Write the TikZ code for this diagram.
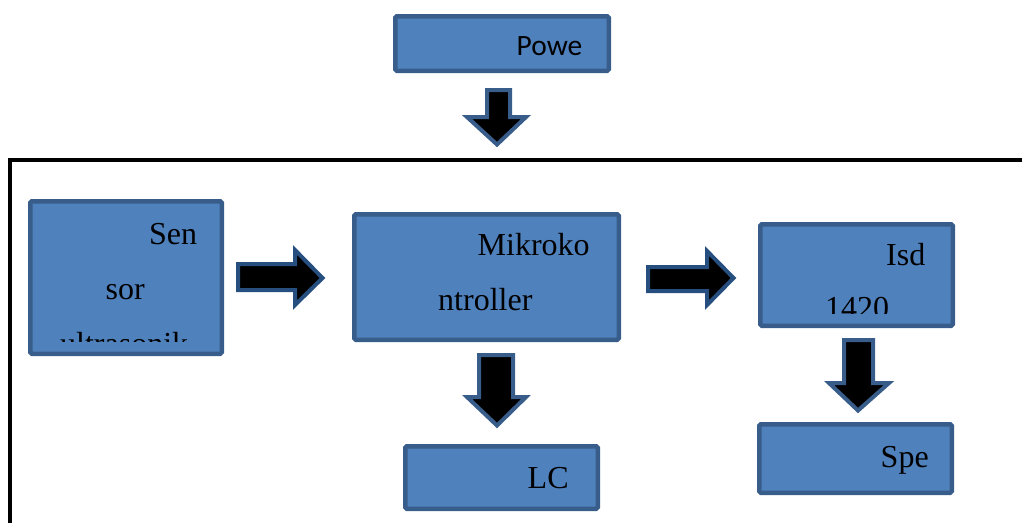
\documentclass[tikz,border=0pt]{standalone}
\usepackage{fontspec}
\setmainfont{Liberation Serif}
\newfontfamily\calibfont{Carlito}
\definecolor{boxfill}{HTML}{4F81BD}
\definecolor{boxedge}{HTML}{385D8A}
\definecolor{rightedge}{HTML}{264F80}
\begin{document}
\begin{tikzpicture}[x=1pt,y=-1pt,
  block/.style={draw=boxedge, fill=boxfill, line width=4.5pt, rounded corners=1.5pt, inner sep=0pt},
  blockarrow/.style={fill=black, draw=#1, line width=4pt, line join=miter},
  txt/.style={anchor=base west, inner sep=0pt, font=\fontsize{32}{32}\selectfont},
  frameline/.style={draw=black, line width=4pt}]
\useasboundingbox (0,0) rectangle (1022,523);

% system frame
\draw[frameline] (10,523) -- (10,160) -- (1024,160);

% blocks
\node[block, minimum width=213.5pt, minimum height=54.5pt] (power) at (502,43.5) {};
\node[block, minimum width=191.5pt, minimum height=152.5pt] (sensor) at (126,277.5) {};
\node[block, minimum width=264.5pt, minimum height=125.5pt] (mcu) at (486.5,277) {};
\node[block, minimum width=192.5pt, minimum height=101.5pt] (isd) at (856.5,275) {};
\node[block, minimum width=192.5pt, minimum height=68.5pt] (spk) at (855.5,458.5) {};
\node[block, minimum width=192.5pt, minimum height=62.5pt] (lcd) at (501.5,477.5) {};

% labels
\node[anchor=base west, inner sep=0pt, font=\calibfont\fontsize{29.5}{29.5}\selectfont] (powertxt) at (516.5,55) {Powe};
\begin{scope}
  \clip (31,203) rectangle (221,341);
  \node[txt] (s1) at (149,244) {Sen};
  \node[txt] (s2) at (105.5,299) {sor};
  \node[txt] (s3) at (60,354) {ultrasonik};
\end{scope}
\node[txt] (m1) at (477.5,255) {Mikroko};
\node[txt] (m2) at (438,310) {ntroller};
\begin{scope}
  \clip (761,225) rectangle (952,313);
  \node[txt] (i1) at (886,265) {Isd};
  \node[txt] (i2) at (825,318) {1420};
\end{scope}
\node[txt] (sp) at (880.5,467) {Spe};
\node[txt] (lc) at (527.5,488) {LC};

% block arrows
\draw[blockarrow=boxedge] (487,90) -- (510,90) -- (510,117) -- (526,117) -- (497,144.5) -- (467,117) -- (487,117) -- cycle;
\draw[blockarrow=boxedge] (479,355) -- (513,355) -- (513,397) -- (526,397) -- (497,425.5) -- (467,397) -- (479,397) -- cycle;
\draw[blockarrow=boxedge] (844,340) -- (873,340) -- (873,383) -- (889,383) -- (858,410.5) -- (829,383) -- (844,383) -- cycle;
\draw[blockarrow=rightedge] (238,264) -- (295,264) -- (295,250) -- (322.5,278) -- (295,305) -- (295,290) -- (238,290) -- cycle;
\draw[blockarrow=rightedge] (648,267) -- (707,267) -- (707,251) -- (733.5,278) -- (707,305) -- (707,291) -- (648,291) -- cycle;
\end{tikzpicture}
\end{document}
